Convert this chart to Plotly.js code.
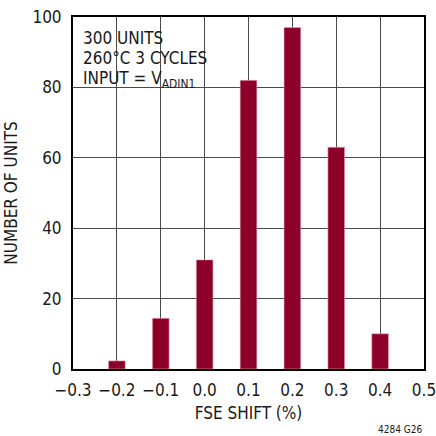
<!DOCTYPE html>
<html>
<head>
<meta charset="utf-8">
<script src="https://cdn.plot.ly/plotly-3.0.1.min.js"></script>
<style>html,body{margin:0;padding:0;background:#fff;}#chart{width:436px;height:436px;}</style>
</head>
<body>
<div id="chart"></div>
<script>
var fseShift = [-0.2, -0.1, 0.0, 0.1, 0.2, 0.3, 0.4];
var numberOfUnits = [2.3, 14.4, 31, 82, 97, 63, 10];
var xTickVals = [-0.3, -0.2, -0.1, 0.0, 0.1, 0.2, 0.3, 0.4, 0.5];
var xTickText = ['\u22120.3', '\u22120.2', '\u22120.1', '0.0', '0.1', '0.2', '0.3', '0.4', '0.5'];
var yTickVals = [0, 20, 40, 60, 80, 100];
var noteLines = ['300 UNITS', '260°C 3 CYCLES', 'INPUT = V<sub>ADIN1</sub>'];
var xTitle = 'FSE SHIFT (%)';
var yTitle = 'NUMBER OF UNITS';
var figId = '4284 G26';

var FONT = '"DejaVu Sans Condensed", "Liberation Sans", sans-serif';
var noteY = [0.940, 0.884, 0.822];
var ann = noteLines.map(function (t, i) {
  return {
    xref: 'paper', yref: 'paper', x: 0.022, y: noteY[i],
    xanchor: 'left', yanchor: 'middle', showarrow: false, align: 'left',
    text: t, font: {family: FONT, size: 17, color: '#1a1a1a'}
  };
});
ann.push({
  xref: 'paper', yref: 'paper', x: 1.0, y: -0.172, xanchor: 'right', yanchor: 'middle',
  showarrow: false, text: figId, font: {family: FONT, size: 10, color: '#1a1a1a'}
});

Plotly.newPlot('chart', [{
  type: 'bar', x: fseShift, y: numberOfUnits, width: 0.038,
  marker: {color: '#8c0029', line: {color: '#e7a3b4', width: 0.6}}
}], {
  width: 436, height: 436,
  margin: {l: 73, r: 12, t: 17, b: 67},
  paper_bgcolor: '#fff', plot_bgcolor: '#fff',
  showlegend: false,
  xaxis: {
    range: [-0.3, 0.5], tickmode: 'array', tickvals: xTickVals, ticktext: xTickText,
    showgrid: true, gridcolor: '#4a4a4a', gridwidth: 1, zeroline: false,
    showline: true, linecolor: '#000', linewidth: 2, mirror: true,
    ticks: '', ticklen: 0, ticklabelstandoff: 5, ticklabeloverflow: 'allow',
    tickfont: {family: FONT, size: 17, color: '#1a1a1a'},
    title: {text: xTitle, font: {family: FONT, size: 17, color: '#1a1a1a'}, standoff: 8}
  },
  yaxis: {
    range: [0, 100], tickmode: 'array', tickvals: yTickVals,
    showgrid: true, gridcolor: '#4a4a4a', gridwidth: 1, zeroline: false,
    showline: true, linecolor: '#000', linewidth: 2, mirror: true,
    ticks: '', ticklen: 0, ticklabelstandoff: 6,
    tickfont: {family: FONT, size: 17, color: '#1a1a1a'},
    title: {text: yTitle, font: {family: FONT, size: 17, color: '#1a1a1a'}, standoff: 10}
  },
  shapes: [{
    type: 'rect', xref: 'paper', yref: 'paper', layer: 'between',
    x0: 0.02, x1: 0.376, y0: 0.778, y1: 0.986,
    fillcolor: '#fff', line: {width: 0}
  }],
  annotations: ann
}, {displayModeBar: false, staticPlot: true});
</script>
</body>
</html>
